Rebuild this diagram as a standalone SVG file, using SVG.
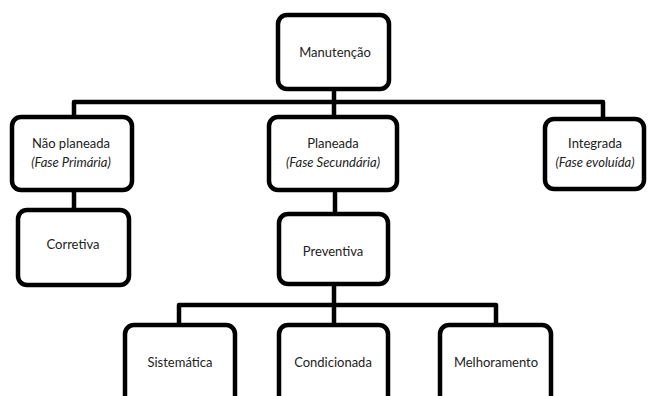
<svg xmlns="http://www.w3.org/2000/svg" width="650" height="396" viewBox="0 0 650 396">
  <style>
    .box { fill: #ffffff; stroke: #000000; stroke-width: 4.5; }
    .link { fill: none; stroke: #000000; stroke-width: 4.5; stroke-linejoin: round; }
    text { font-family: "Lato", "Liberation Sans", sans-serif; font-size: 13px; fill: #222222; text-anchor: middle; dominant-baseline: central; }
    .sub { font-style: italic; }
  </style>
  <rect width="650" height="396" fill="#ffffff"/>

  <!-- tree connectors -->
  <g id="connectors">
    <path class="link" d="M334 89 V117"/>
    <path class="link" d="M74 117 V102 H603 V119"/>
    <path class="link" d="M74 190 V210"/>
    <path class="link" d="M335 190 V214"/>
    <path class="link" d="M334 284 V325"/>
    <path class="link" d="M179 325 V305 H496 V325"/>
  </g>

  <g id="manutencao">
    <rect class="box" x="278" y="15" width="111" height="74" rx="9"/>
    <text x="335" y="52">Manutenção</text>
  </g>

  <g id="nao-planeada">
    <rect class="box" x="12" y="117" width="120" height="73" rx="9"/>
    <text x="71" y="143">Não planeada</text>
    <text class="sub" x="71" y="162">(Fase Primária)</text>
  </g>

  <g id="planeada">
    <rect class="box" x="269" y="117" width="128" height="73" rx="9"/>
    <text x="333" y="143">Planeada</text>
    <text class="sub" x="333" y="162">(Fase Secundária)</text>
  </g>

  <g id="integrada">
    <rect class="box" x="545" y="119" width="99" height="70" rx="9"/>
    <text x="595" y="143">Integrada</text>
    <text class="sub" x="595" y="162">(Fase evoluída)</text>
  </g>

  <g id="corretiva">
    <rect class="box" x="18" y="210" width="111" height="75" rx="9"/>
    <text x="73" y="244">Corretiva</text>
  </g>

  <g id="preventiva">
    <rect class="box" x="279" y="214" width="109" height="70" rx="9"/>
    <text x="333" y="251">Preventiva</text>
  </g>

  <g id="sistematica">
    <rect class="box" x="125" y="325" width="110" height="90" rx="9"/>
    <text x="180" y="362">Sistemática</text>
  </g>

  <g id="condicionada">
    <rect class="box" x="279" y="325" width="109" height="90" rx="9"/>
    <text x="333" y="362">Condicionada</text>
  </g>

  <g id="melhoramento">
    <rect class="box" x="440" y="325" width="111" height="90" rx="9"/>
    <text x="496" y="362">Melhoramento</text>
  </g>
</svg>
